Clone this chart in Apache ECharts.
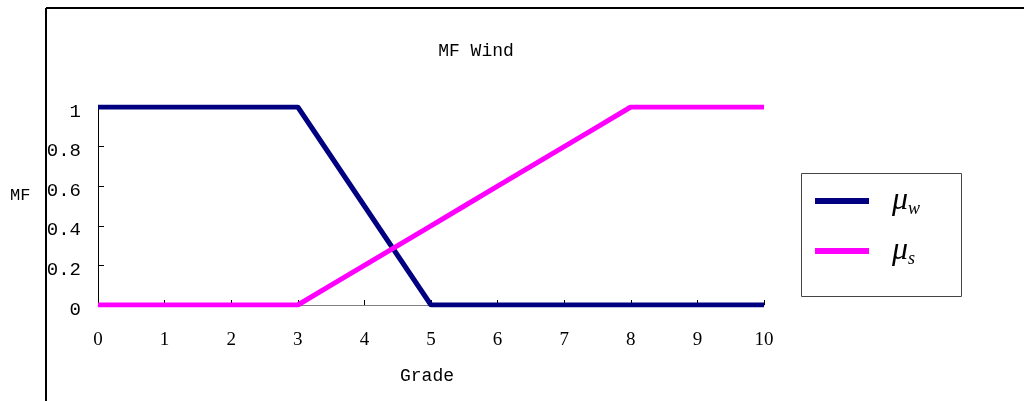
<!DOCTYPE html>
<html><head><meta charset="utf-8">
<script src="https://cdn.jsdelivr.net/npm/echarts@6/dist/echarts.min.js"></script>
<style>html,body{margin:0;padding:0;background:#fff}#c{width:1024px;height:401px}</style>
</head><body><div id="c"></div>
<script>
const grades = [0,0.5,1,1.5,2,2.5,3,3.5,4,4.5,5,5.5,6,6.5,7,7.5,8,8.5,9,9.5,10];
const muW = [1,1,1,1,1,1,1,0.75,0.5,0.25,0,0,0,0,0,0,0,0,0,0,0];
const muS = [0,0,0,0,0,0,0,0.1,0.2,0.3,0.4,0.5,0.6,0.7,0.8,0.9,1,1,1,1,1];
const yTicks = ['0','0.2','0.4','0.6','0.8','1'];
const titleText = 'MF Wind';
const xName = 'Grade';
const yName = 'MF';

const chart = echarts.init(document.getElementById('c'), null, {renderer:'canvas'});
const mono = 'Liberation Mono';
const serif = 'Liberation Serif';
chart.setOption({
  animation:false,
  backgroundColor:'#fff',
  title:{text:titleText,left:471,top:37,textAlign:'center',textStyle:{fontFamily:mono,fontWeight:'normal',fontSize:18,color:'#000'}},
  grid:{left:98,right:260,top:107,bottom:96},
  xAxis:{type:'value',min:0,max:10,interval:1,
    axisLine:{lineStyle:{color:'#808080',width:1}},
    axisTick:{inside:true,length:5,lineStyle:{color:'#000'}},
    splitLine:{show:false},
    axisLabel:{margin:26,fontFamily:serif,fontSize:19,color:'#000'}},
  yAxis:{type:'value',min:0,max:1,interval:0.2,
    axisLine:{show:true,lineStyle:{color:'#000',width:1}},
    axisTick:{show:true,inside:true,length:6,lineStyle:{color:'#000'}},
    splitLine:{show:false},
    axisLabel:{margin:17,fontFamily:mono,fontSize:19,color:'#000',verticalAlign:'top',lineHeight:9,
      formatter:(v)=>{const i=Math.round(v*5);return yTicks[i];}}},
  legend:{show:true,left:810,top:180,orient:'vertical',itemGap:17,itemWidth:54,itemHeight:6,
    icon:'rect',
    data:['w','s'],
    formatter:(n)=>'{mu|μ}{sub|'+n+'}',
    textStyle:{padding:[0,0,0,18],rich:{
      mu:{fontFamily:serif,fontStyle:'italic',fontSize:32,color:'#000'},
      sub:{fontFamily:serif,fontStyle:'italic',fontSize:18,color:'#000',verticalAlign:'bottom',padding:[16,0,0,0]}}}},
  graphic:[
    {type:'line',shape:{x1:46,y1:8,x2:1024,y2:8},style:{stroke:'#000',lineWidth:2}},
    {type:'line',shape:{x1:46,y1:8,x2:46,y2:401},style:{stroke:'#000',lineWidth:2}},
    {type:'rect',shape:{x:801.5,y:173.5,width:160,height:123},style:{fill:'none',stroke:'#444',lineWidth:1}},
    {type:'text',left:400,top:367,style:{text:xName,font:'18px '+mono,fill:'#000'}},
    {type:'text',left:10,top:187,style:{text:yName,font:'17px '+mono,fill:'#000'}}
  ],
  series:[
    {name:'w',type:'line',data:grades.map((g,i)=>[g,muW[i]]),symbol:'none',lineStyle:{color:'#000080',width:5},itemStyle:{color:'#000080'}},
    {name:'s',type:'line',data:grades.map((g,i)=>[g,muS[i]]),symbol:'none',lineStyle:{color:'#FF00FF',width:5},itemStyle:{color:'#FF00FF'}}
  ]
});
</script></body></html>
